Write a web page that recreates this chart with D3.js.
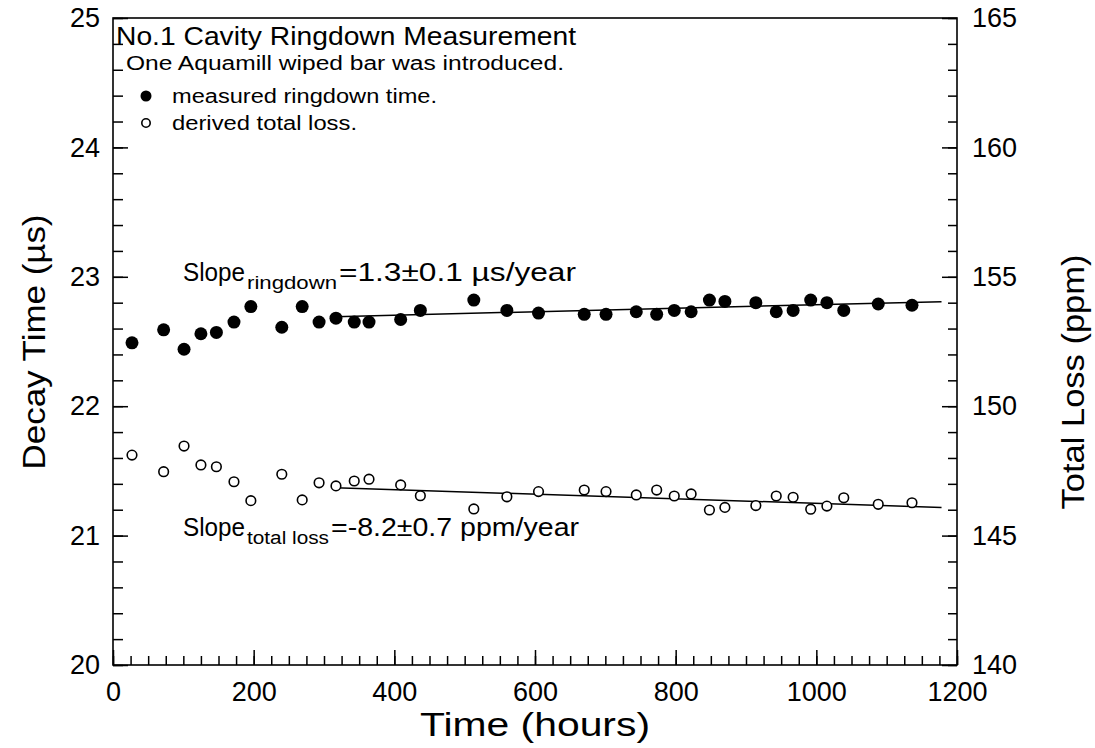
<!DOCTYPE html>
<html>
<head>
<meta charset="utf-8">
<script src="https://cdn.jsdelivr.net/npm/d3@7"></script>
<style>
html,body{margin:0;padding:0;background:#fff;}
svg{display:block;font-family:"Liberation Sans",Arial,sans-serif;}
</style>
</head>
<body>
<svg id="chart" width="1095" height="748"></svg>
<script>
// ---- data ----
const hours = [27,72,101,125,147,172,196,240,269,293,317,343,364,409,437,513,560,605,670,701,744,773,798,822,848,870,914,943,967,992,1015,1039,1088,1136];
const decayTime = [22.49,22.59,22.44,22.56,22.57,22.65,22.77,22.61,22.77,22.65,22.68,22.65,22.65,22.67,22.74,22.82,22.74,22.72,22.71,22.71,22.73,22.71,22.74,22.73,22.82,22.81,22.80,22.73,22.74,22.82,22.80,22.74,22.79,22.78];
const totalLoss = [148.11,147.47,148.46,147.73,147.66,147.08,146.35,147.37,146.38,147.04,146.92,147.11,147.18,146.96,146.54,146.03,146.50,146.70,146.76,146.70,146.57,146.76,146.53,146.61,145.99,146.09,146.16,146.53,146.48,146.02,146.14,146.46,146.21,146.27];
const fitHours = [316,1178];
const fitDecay = [22.692,22.808];
const fitLoss = [146.85,146.09];
const xTicks = [0,200,400,600,800,1000,1200];
const yLeftTicks = [20,21,22,23,24,25];
const yRightTicks = [140,145,150,155,160,165];

const svg = d3.select("#chart");
const L=113,R=957,T=18,B=665;
const x = d3.scaleLinear().domain([0,1200]).range([L,R]);
const yL = d3.scaleLinear().domain([20,25]).range([B,T]);
const yR = d3.scaleLinear().domain([140,165]).range([B,T]);

function styleAxis(g){
  g.select(".domain").remove();
  g.selectAll(".tick line").attr("stroke","#000").attr("stroke-width",1.5);
  g.selectAll(".tick text").attr("fill","#000").attr("font-size",27).attr("font-family","Liberation Sans, Arial, sans-serif");
}

// minor ticks
svg.append("g").attr("transform",`translate(0,${B})`)
  .call(d3.axisBottom(x).tickValues(d3.range(0,1201,25)).tickSize(-9).tickFormat(""))
  .call(styleAxis);
svg.append("g").attr("transform",`translate(${L},0)`)
  .call(d3.axisLeft(yL).tickValues(d3.range(20,25.001,0.2)).tickSize(-10).tickFormat(""))
  .call(styleAxis);
svg.append("g").attr("transform",`translate(${R},0)`)
  .call(d3.axisRight(yR).tickValues(d3.range(140,165.001,1)).tickSize(-9).tickFormat(""))
  .call(styleAxis);
// major ticks
svg.append("g").attr("transform",`translate(0,${B})`)
  .call(d3.axisBottom(x).tickValues(xTicks).tickSize(-15).tickPadding(17).tickFormat(d3.format("d")))
  .call(styleAxis);
svg.append("g").attr("transform",`translate(${L},0)`)
  .call(d3.axisLeft(yL).tickValues(yLeftTicks).tickSize(-15).tickPadding(13).tickFormat(d3.format("d")))
  .call(styleAxis);
svg.append("g").attr("transform",`translate(${R},0)`)
  .call(d3.axisRight(yR).tickValues(yRightTicks).tickSize(-15).tickPadding(15).tickFormat(d3.format("d")))
  .call(styleAxis);

// frame
svg.append("rect").attr("x",L).attr("y",T).attr("width",R-L).attr("height",B-T)
  .attr("fill","none").attr("stroke","#000").attr("stroke-width",1.6);

// fit lines
const line = (ys,yScale)=>d3.line().x((d,i)=>x(fitHours[i])).y((d,i)=>yScale(ys[i]))(ys);
svg.append("path").attr("d",line(fitDecay,yL)).attr("stroke","#000").attr("stroke-width",1.5).attr("fill","none");
svg.append("path").attr("d",line(fitLoss,yR)).attr("stroke","#000").attr("stroke-width",1.5).attr("fill","none");

// points
svg.append("g").selectAll("circle").data(hours).join("circle")
  .attr("cx",d=>x(d)).attr("cy",(d,i)=>yL(decayTime[i])).attr("r",6.5).attr("fill","#000");
svg.append("g").selectAll("circle").data(hours).join("circle")
  .attr("cx",d=>x(d)).attr("cy",(d,i)=>yR(totalLoss[i])).attr("r",4.8)
  .attr("fill","#fff").attr("stroke","#000").attr("stroke-width",1.6);

// texts
function txt(s,xp,yp,size,len,anchor){
  const t=svg.append("text").attr("x",xp).attr("y",yp).attr("font-size",size).attr("fill","#000").text(s);
  if(len) t.attr("textLength",len).attr("lengthAdjust","spacingAndGlyphs");
  if(anchor) t.attr("text-anchor",anchor);
  return t;
}
txt("No.1 Cavity Ringdown Measurement",116,45,26,460);
txt("One Aquamill wiped bar was introduced.",126,70,20,438);
svg.append("circle").attr("cx",146).attr("cy",96).attr("r",5.5).attr("fill","#000");
txt("measured ringdown time.",172,103,20,265);
svg.append("circle").attr("cx",146).attr("cy",123).attr("r",4.2).attr("fill","#fff").attr("stroke","#000").attr("stroke-width",1.6);
txt("derived total loss.",172,130,20,185);

function slope(sub,subLen,rest,restLen,yp){
  txt("Slope",183,yp,25,62);
  txt(sub,247,yp+8,18,subLen);
  txt(rest,247+subLen+2,yp,25,restLen);
}
slope("ringdown",90,"=1.3\u00b10.1 \u00b5s/year",237,281);
slope("total loss",82,"=-8.2\u00b10.7 ppm/year",248,536);

// axis titles
txt("Time (hours)",535,736,33,230,"middle");
svg.append("text").attr("transform","translate(45,342) rotate(-90)").attr("text-anchor","middle")
  .attr("font-size",32).attr("textLength",255).attr("lengthAdjust","spacingAndGlyphs").attr("fill","#000").text("Decay Time (\u00b5s)");
svg.append("text").attr("transform","translate(1084,382) rotate(-90)").attr("text-anchor","middle")
  .attr("font-size",32).attr("textLength",255).attr("lengthAdjust","spacingAndGlyphs").attr("fill","#000").text("Total Loss (ppm)");
</script>
</body>
</html>
